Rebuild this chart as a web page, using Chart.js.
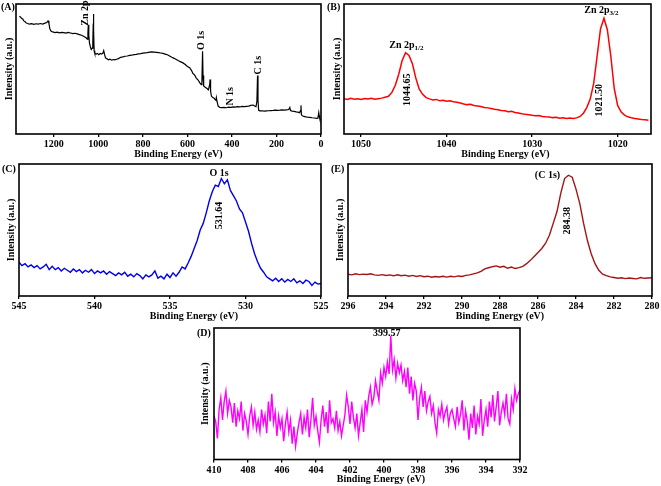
<!DOCTYPE html>
<html><head><meta charset="utf-8">
<script src="https://cdn.jsdelivr.net/npm/chart.js@4.4.0/dist/chart.umd.min.js"></script>
<style>
html,body{margin:0;padding:0;background:#fff;}
body{width:661px;height:486px;position:relative;overflow:hidden;}
.p{position:absolute;}
</style></head><body>
<div class="p" style="left:0px;top:0px;width:330px;height:162px"><canvas id="cA"></canvas></div>
<div class="p" style="left:326px;top:0px;width:335px;height:162px"><canvas id="cB"></canvas></div>
<div class="p" style="left:0px;top:160px;width:330px;height:162px"><canvas id="cC"></canvas></div>
<div class="p" style="left:330px;top:160px;width:331px;height:162px"><canvas id="cE"></canvas></div>
<div class="p" style="left:195px;top:318px;width:335px;height:168px"><canvas id="cD"></canvas></div>
<script>
// ---------- DATA ----------
// (A) survey spectrum
const surveyEnergy = [1355,1350,1345,1340,1335,1330,1325,1318,1310,1300,1290,1280,1270,1260,1250,1240,1232,1226,1222,1218,1212,1205,1195,1185,1175,1165,1155,1145,1135,1125,1115,1105,1095,1085,1075,1065,1055,1050,1047,1045,1043,1040,1036,1032,1028,1025,1023,1022,1021,1019,1016,1010,1004,998,992,986,980,976,972,968,962,955,948,940,932,925,918,910,900,890,880,870,860,850,840,830,820,810,800,790,780,770,760,750,740,730,720,710,700,690,680,670,660,650,640,630,620,610,600,590,582,575,568,560,552,545,538,535,532,530,527,520,512,506,500,498,496,492,486,480,476,472,470,467,462,455,445,435,425,415,405,395,385,375,365,355,345,335,325,315,305,298,292,288,285,283,280,275,265,255,245,235,225,215,205,195,185,175,165,155,145,140,137,130,120,112,104,96,92,90,88,84,76,68,60,50,40,30,20,14,10,8,5,2,0];
const surveyIntensity = [90.5,90,89,88.5,87,86.5,85.5,85,84.6,84.9,84.3,84.8,84.5,85,84.6,85.3,85.8,87,85,81,79,78.5,78,78.4,77.8,78.2,78,77.6,78.2,77.7,77.2,77.5,77,76.5,76,75,74,73,78,84,76,70,67,65,66,70,85,92.4,80,64,62,61.5,62,61,62,61.5,62,64,61,58.5,58,57,57.5,56.8,57.3,57,57.5,58,59,59.3,59.8,60,60.5,60.6,61,61.2,61.6,61.8,62.2,62.4,62.6,63,63.2,63,62.8,62.6,62.3,62,61.5,61,60,59,58.2,57.3,56.3,55.5,54.7,53.5,52,51,49,46.5,45.5,43,41.5,39.5,38,40,63.6,45,37,36,35,34,38,42,33,29,28,27.5,26.5,26,28,25,21.5,20.5,20.3,20.5,20.2,20.6,20.5,20.8,20.7,21,20.8,21.2,21,21.3,21.5,22,22.3,21.5,21,25,45,26,18.2,17.8,17.9,17.6,17.8,17.9,18,18.1,18.3,18.2,18.3,18.5,18.4,18.6,18.8,20.4,18,17.6,17.4,17,16.8,16.4,18,22,15,14,13.5,13.2,13,12.8,12.5,12.3,12,12.2,16.5,14,11.5,11,11];
const surveyTicks = [1200,1000,800,600,400,200,0];

// (B) Zn 2p region, energies from 1052.0 down in 0.4 eV steps
const zn2pStart = 1052.0, zn2pStep = 0.4;
const zn2pIntensity = [27.2,26.6,27.4,26.8,27.1,26.5,27.3,26.9,27.5,26.8,
 27.2,27.6,28.3,29,32,37.5,46,56.5,62.5,60.5,
 54,43,34.5,30.5,28,27,26.2,26.6,25.5,25.9,
 25.2,25.6,24.8,24.4,23.8,23.1,22.6,22.9,21.9,21.6,
 21.2,20.4,20.1,19.6,19,18.7,18.1,17.8,17.2,17.4,
 16.5,16.2,15.6,15.1,14.8,14.4,14.1,14.3,13.5,13.2,
 13,12.6,12.9,12.2,12.5,12,12.3,11.9,12.4,13.5,
 16,20.5,27,39,60,81,89,80,60,35,
 22,17,14.5,13.2,12.5,12,11.6,11.2,11,10.6];
const zn2pTicks = [1050,1040,1030,1020];

// (C) O 1s region, energies from 545.0 down in 0.2 eV steps
const o1sStart = 545.0, o1sStep = 0.2;
const o1sIntensity = [25.5,23,24.5,22,23.5,21.5,23,20.5,22,24,
 20,22.5,20,21.5,19,21,19.5,18,20.5,18.5,
 20,17.5,19.5,18,20,17,19,17.5,19,16.5,
 18.5,17,15.5,17.5,16,18,15,16.5,14.5,17,
 15.5,13,16,14.5,16,19,13.5,15,13,16.5,
 14,17.5,15,18,22,20.5,25,30,36,42,
 50,55,63,72,79,84,83,89,85,88,
 80,76,72,66,63,56,49,40,32,26,
 21,18,14.5,13,11.5,13.5,11,13,10.5,12.5,
 11,13,10,11.5,9.5,12,11,8,10.5,9,
 9.5];
const o1sTicks = [545,540,535,530,525];

// (E) C 1s region, energies from 296.0 down in 0.2 eV steps
const c1sStart = 296.0, c1sStep = 0.2;
const c1sIntensity = [16.5,16,16.8,16.2,16.6,16.3,16.8,16,15.6,16.2,
 15.5,16,15.3,16.1,15.4,15.8,15,15.6,14.8,15.4,
 14.6,15,14.2,14.8,14.4,15,14.3,15,14.5,15.2,
 14.8,15.6,16,16.8,17.5,18.6,20.5,21.4,22.2,22.8,
 21.8,22.5,21,21.9,20.8,21.5,22.5,24.5,27,30,
 33,36,40,46,55,64,78,89,91.5,90,
 81,70,55,42,32,24.5,19.5,16.5,15.5,14.5,
 14,13.5,13.8,13.2,13.6,13.3,13,14,13.4,13.6,
 13.8];
const c1sTicks = [296,294,292,290,288,286,284,282,280];

// (D) N 1s region, energies from 410.0 down in 0.1 eV steps
const n1sStart = 410.0, n1sStep = 0.1;
const n1sIntensity = [33,29,16,38,47,30,44,52,35,45,
 40,28,43,25,37,31,44,22,35,29,
 19,33,40,26,36,23,30,21,38,27,
 34,20,44,29,50,28,36,18,33,24,
 31,14,27,36,21,30,12,25,10,20,
 28,35,19,32,24,38,17,30,47,26,
 33,22,13,30,41,25,36,20,45,28,
 31,24,37,22,29,18,26,34,49,40,
 27,44,32,24,35,18,28,38,21,45,
 36,48,55,42,47,60,52,45,66,58,
 70,63,74,65,94,68,76,62,73,66,
 72,60,67,55,70,50,63,45,58,52,
 30,47,55,40,52,37,44,48,35,41,
 28,20,38,33,42,30,36,40,27,35,
 38,31,25,40,28,34,45,22,37,29,
 15,35,24,41,19,33,27,46,18,30,
 38,25,44,32,49,29,40,52,26,36,
 43,34,50,31,27,46,38,54,45,50,
 53];
const n1sTicks = [410,408,406,404,402,400,398,396,394,392];

// ---------- RENDERING ----------
const FONT = '"Liberation Serif", "Times New Roman", serif';

function evenSeries(start, step, vals){
  return vals.map((v,i)=>({x: +(start - i*step).toFixed(3), y: v}));
}
function pairSeries(xs, ys){ return xs.map((x,i)=>({x, y: ys[i]})); }

function makePlugin(cfg){
  return {
    id: 'frame',
    afterDatasetsDraw(chart){
      const {ctx, chartArea:a, scales} = chart;
      const xs = scales.x, ys = scales.y;
      ctx.save();
      ctx.strokeStyle = '#000'; ctx.lineWidth = 1.6;
      ctx.strokeRect(a.left, a.top, a.right - a.left, a.bottom - a.top);
      ctx.fillStyle = '#000';
      // panel letter
      ctx.font = 'bold 10px ' + FONT;
      ctx.textAlign = 'left'; ctx.textBaseline = 'top';
      ctx.fillText(cfg.letter, cfg.lx, cfg.ly);
      // x-axis title
      ctx.font = 'bold 10px ' + FONT;
      ctx.textAlign = 'center'; ctx.textBaseline = 'middle';
      ctx.fillText('Binding Energy (eV)', (a.left + a.right)/2 + cfg.tdx, a.bottom + 20);
      // peak annotations
      cfg.notes.forEach(n => {
        const px = xs.getPixelForValue(n.e), py = ys.getPixelForValue(n.v);
        ctx.save();
        ctx.translate(px, py);
        if (n.rot) ctx.rotate(-Math.PI/2);
        const size = n.size || 10;
        ctx.font = 'bold ' + size + 'px ' + FONT;
        ctx.textBaseline = 'middle';
        if (n.sub) {
          const w1 = ctx.measureText(n.text).width;
          ctx.font = 'bold ' + (size*0.7) + 'px ' + FONT;
          const w2 = ctx.measureText(n.sub).width;
          const start = -(w1 + w2)/2;
          ctx.textAlign = 'left';
          ctx.font = 'bold ' + size + 'px ' + FONT;
          ctx.fillText(n.text, start, 0);
          ctx.font = 'bold ' + (size*0.7) + 'px ' + FONT;
          ctx.fillText(n.sub, start + w1, 3);
        } else {
          ctx.textAlign = 'center';
          ctx.fillText(n.text, 0, 0);
        }
        ctx.restore();
      });
      ctx.restore();
    }
  };
}

function makePanel(id, cfg){
  new Chart(document.getElementById(id), {
    type: 'line',
    data: { datasets: [{ data: cfg.data, borderColor: cfg.color, borderWidth: cfg.lw || 1.4,
      pointRadius: 0, tension: 0, fill: false }] },
    options: {
      responsive: true, maintainAspectRatio: false, animation: false,
      layout: { padding: { left: 0, top: cfg.pt, right: cfg.pr, bottom: 0 } },
      plugins: { legend: { display: false }, tooltip: { enabled: false } },
      scales: {
        x: {
          type: 'linear', reverse: true, min: cfg.min, max: cfg.max,
          afterBuildTicks: s => { s.ticks = cfg.ticks.map(v => ({value: v})); },
          afterFit: s => { s.height = cfg.xh; },
          grid: { display: true, drawOnChartArea: false, drawTicks: true, tickLength: 3, color: '#000', lineWidth: 1.3 },
          border: { display: false },
          ticks: { autoSkip: false, maxRotation: 0, padding: 1.5, color: '#000',
                   callback: v => String(v),
                   font: { family: FONT, size: 10, weight: 'bold' } },
          title: { display: false }
        },
        y: {
          min: 0, max: 100,
          afterFit: s => { s.width = cfg.yw; },
          grid: { display: false }, border: { display: false },
          ticks: { display: false },
          title: { display: true, text: 'Intensity (a.u.)', color: '#000',
                   padding: { top: cfg.ytp, bottom: 0 }, font: { family: FONT, size: 10, weight: 'bold' } }
        }
      }
    },
    plugins: [makePlugin(cfg)]
  });
}

makePanel('cA', {
  data: pairSeries(surveyEnergy, surveyIntensity), color: '#000', lw: 1.2,
  min: 0, max: 1370, ticks: surveyTicks, pt: 4, pr: 9, yw: 16, xh: 28, ytp: 3, tdx: 10,
  letter: '(A)', lx: 1, ly: 2,
  notes: [
    {text: 'Zn 2p', e: 1060, v: 93, rot: true},
    {text: 'O 1s', e: 539, v: 72, rot: true},
    {text: 'N 1s', e: 409, v: 29, rot: true},
    {text: 'C 1s', e: 283, v: 53, rot: true}
  ]
});

makePanel('cB', {
  data: evenSeries(zn2pStart, zn2pStep, zn2pIntensity), color: '#ff0000', lw: 1.5,
  min: 1016.1, max: 1052, ticks: zn2pTicks, pt: 4, pr: 10, yw: 18, xh: 28, ytp: 5, tdx: 8,
  letter: '(B)', lx: 1, ly: 2,
  notes: [
    {text: 'Zn 2p', sub: '1/2', e: 1044.7, v: 68.5},
    {text: '1044.65', e: 1044.6, v: 34, rot: true},
    {text: 'Zn 2p', sub: '3/2', e: 1021.9, v: 95},
    {text: '1021.50', e: 1022.1, v: 26, rot: true}
  ]
});

makePanel('cC', {
  data: evenSeries(o1sStart, o1sStep, o1sIntensity), color: '#0000ee', lw: 1.4,
  min: 525, max: 545, ticks: o1sTicks, pt: 4, pr: 5, yw: 19, xh: 26, ytp: 5, tdx: 24,
  letter: '(C)', lx: 2, ly: 4,
  notes: [
    {text: 'O 1s', e: 531.75, v: 92.5},
    {text: '531.64', e: 531.75, v: 61, rot: true}
  ]
});

makePanel('cE', {
  data: evenSeries(c1sStart, c1sStep, c1sIntensity), color: '#a31515', lw: 1.4,
  min: 280, max: 296, ticks: c1sTicks, pt: 4, pr: 9, yw: 18, xh: 26, ytp: 4, tdx: 0,
  letter: '(E)', lx: 1, ly: 4,
  notes: [
    {text: '(C 1s)', e: 285.5, v: 91.5},
    {text: '284.38', e: 284.46, v: 57, rot: true}
  ]
});

makePanel('cD', {
  data: evenSeries(n1sStart, n1sStep, n1sIntensity), color: '#ff00ff', lw: 1.4,
  min: 392, max: 410, ticks: n1sTicks, pt: 10, pr: 10, yw: 19, xh: 26.5, ytp: 4, tdx: 14,
  letter: '(D)', lx: 2, ly: 10,
  notes: [
    {text: '399.57', e: 399.84, v: 95.5}
  ]
});
</script>
</body></html>
